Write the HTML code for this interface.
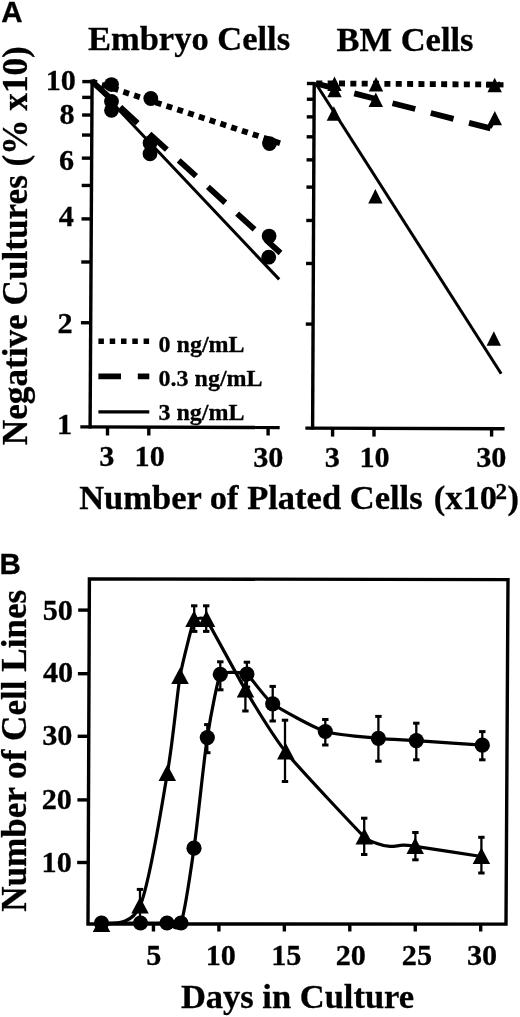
<!DOCTYPE html>
<html><head><meta charset="utf-8"><style>
html,body{margin:0;padding:0;background:#fff;}
svg{display:block;filter:grayscale(1) blur(0.3px);}
text{fill:#000;}
</style></head><body>
<svg width="520" height="1017" viewBox="0 0 520 1017">
<rect width="520" height="1017" fill="#fff"/>
<text x="1.20" y="22.10" font-size="29.5" text-anchor="start" font-family="Liberation Sans" font-weight="bold" stroke="#000" stroke-width="0.3" >A</text>
<text x="189.00" y="49.80" font-size="34.5" text-anchor="middle" font-family="Liberation Serif" font-weight="bold" stroke="#000" stroke-width="0.3" >Embryo Cells</text>
<text x="405.00" y="51.30" font-size="34.5" text-anchor="middle" font-family="Liberation Serif" font-weight="bold" stroke="#000" stroke-width="0.3" >BM Cells</text>
<text transform="translate(27.3,245.7) rotate(-90)" font-size="35.2" text-anchor="middle" font-family="Liberation Serif" font-weight="bold" stroke="#000" stroke-width="0.3">Negative Cultures (% x10)</text>
<line x1="92.10" y1="79.50" x2="90.10" y2="428.50" stroke="#000" stroke-width="3.4" />
<line x1="80.30" y1="426.85" x2="279.70" y2="427.50" stroke="#000" stroke-width="3.4" />
<line x1="82.29" y1="81.60" x2="92.09" y2="81.60" stroke="#000" stroke-width="3.4" />
<line x1="82.20" y1="97.39" x2="92.00" y2="97.39" stroke="#000" stroke-width="3.4" />
<line x1="82.10" y1="115.03" x2="91.90" y2="115.03" stroke="#000" stroke-width="3.4" />
<line x1="81.98" y1="135.04" x2="91.78" y2="135.04" stroke="#000" stroke-width="3.4" />
<line x1="81.85" y1="158.14" x2="91.65" y2="158.14" stroke="#000" stroke-width="3.4" />
<line x1="81.69" y1="185.46" x2="91.49" y2="185.46" stroke="#000" stroke-width="3.4" />
<line x1="81.50" y1="218.89" x2="91.30" y2="218.89" stroke="#000" stroke-width="3.4" />
<line x1="81.25" y1="261.99" x2="91.05" y2="261.99" stroke="#000" stroke-width="3.4" />
<line x1="80.91" y1="322.74" x2="90.71" y2="322.74" stroke="#000" stroke-width="3.4" />
<line x1="107.50" y1="426.94" x2="107.50" y2="435.50" stroke="#000" stroke-width="3.4" />
<line x1="148.80" y1="427.07" x2="148.80" y2="435.50" stroke="#000" stroke-width="3.4" />
<line x1="268.10" y1="427.46" x2="268.10" y2="435.50" stroke="#000" stroke-width="3.4" />
<text x="45.64" y="89.91" font-size="30.2" text-anchor="start" font-family="Liberation Serif" font-weight="bold" stroke="#000" stroke-width="0.3" >10</text>
<text x="59.50" y="124.21" font-size="30.2" text-anchor="start" font-family="Liberation Serif" font-weight="bold" stroke="#000" stroke-width="0.3" >8</text>
<text x="59.03" y="169.91" font-size="30.2" text-anchor="start" font-family="Liberation Serif" font-weight="bold" stroke="#000" stroke-width="0.3" >6</text>
<text x="58.82" y="226.20" font-size="30.2" text-anchor="start" font-family="Liberation Serif" font-weight="bold" stroke="#000" stroke-width="0.3" >4</text>
<text x="57.51" y="332.60" font-size="30.2" text-anchor="start" font-family="Liberation Serif" font-weight="bold" stroke="#000" stroke-width="0.3" >2</text>
<text x="57.07" y="434.20" font-size="30.2" text-anchor="start" font-family="Liberation Serif" font-weight="bold" stroke="#000" stroke-width="0.3" >1</text>
<text x="99.15" y="466.11" font-size="30.2" text-anchor="start" font-family="Liberation Serif" font-weight="bold" stroke="#000" stroke-width="0.3" >3</text>
<text x="134.62" y="466.11" font-size="30.2" text-anchor="start" font-family="Liberation Serif" font-weight="bold" stroke="#000" stroke-width="0.3" >10</text>
<text x="253.21" y="466.51" font-size="30.2" text-anchor="start" font-family="Liberation Serif" font-weight="bold" stroke="#000" stroke-width="0.3" >30</text>
<line x1="314.20" y1="82.00" x2="312.60" y2="429.50" stroke="#000" stroke-width="3.4" />
<line x1="305.40" y1="428.10" x2="504.60" y2="428.70" stroke="#000" stroke-width="3.4" />
<line x1="306.89" y1="83.50" x2="314.19" y2="83.50" stroke="#000" stroke-width="3.4" />
<line x1="306.82" y1="99.25" x2="314.12" y2="99.25" stroke="#000" stroke-width="3.4" />
<line x1="306.74" y1="116.86" x2="314.04" y2="116.86" stroke="#000" stroke-width="3.4" />
<line x1="306.65" y1="136.82" x2="313.95" y2="136.82" stroke="#000" stroke-width="3.4" />
<line x1="306.54" y1="159.86" x2="313.84" y2="159.86" stroke="#000" stroke-width="3.4" />
<line x1="306.42" y1="187.11" x2="313.72" y2="187.11" stroke="#000" stroke-width="3.4" />
<line x1="306.26" y1="220.47" x2="313.56" y2="220.47" stroke="#000" stroke-width="3.4" />
<line x1="306.06" y1="263.47" x2="313.36" y2="263.47" stroke="#000" stroke-width="3.4" />
<line x1="305.79" y1="324.09" x2="313.09" y2="324.09" stroke="#000" stroke-width="3.4" />
<line x1="332.60" y1="428.18" x2="332.60" y2="436.60" stroke="#000" stroke-width="3.4" />
<line x1="374.00" y1="428.31" x2="374.00" y2="436.60" stroke="#000" stroke-width="3.4" />
<line x1="491.60" y1="428.66" x2="491.60" y2="436.60" stroke="#000" stroke-width="3.4" />
<text x="324.80" y="466.81" font-size="30.2" text-anchor="start" font-family="Liberation Serif" font-weight="bold" stroke="#000" stroke-width="0.3" >3</text>
<text x="359.52" y="466.81" font-size="30.2" text-anchor="start" font-family="Liberation Serif" font-weight="bold" stroke="#000" stroke-width="0.3" >10</text>
<text x="476.21" y="467.31" font-size="30.2" text-anchor="start" font-family="Liberation Serif" font-weight="bold" stroke="#000" stroke-width="0.3" >30</text>
<text x="79.20" y="509.40" font-size="34.5" text-anchor="start" font-family="Liberation Serif" font-weight="bold" stroke="#000" stroke-width="0.3" >Number of Plated Cells</text>
<text x="433.70" y="509.40" font-size="34.5" text-anchor="start" font-family="Liberation Serif" font-weight="bold" stroke="#000" stroke-width="0.3" >(x10</text>
<text x="495.60" y="499.40" font-size="23" text-anchor="start" font-family="Liberation Serif" font-weight="bold" stroke="#000" stroke-width="0.3" >2</text>
<text x="507.60" y="509.40" font-size="34.5" text-anchor="start" font-family="Liberation Serif" font-weight="bold" stroke="#000" stroke-width="0.3" >)</text>
<line x1="92.00" y1="81.50" x2="280.50" y2="143.30" stroke="#000" stroke-width="5.8" stroke-dasharray="6 5.35" stroke-dashoffset="1.05"/>
<line x1="92.00" y1="81.50" x2="280.50" y2="253.00" stroke="#000" stroke-width="5.8" stroke-dasharray="23.5 16" stroke-dashoffset="1.3"/>
<line x1="92.00" y1="81.50" x2="279.20" y2="279.40" stroke="#000" stroke-width="3" />
<circle cx="111.50" cy="84.60" r="7.4" fill="#000"/>
<circle cx="111.50" cy="101.50" r="7.4" fill="#000"/>
<circle cx="111.50" cy="110.30" r="7.4" fill="#000"/>
<circle cx="150.80" cy="98.50" r="7.4" fill="#000"/>
<circle cx="150.00" cy="143.00" r="7.4" fill="#000"/>
<circle cx="150.00" cy="153.80" r="7.4" fill="#000"/>
<circle cx="269.50" cy="143.60" r="7.4" fill="#000"/>
<circle cx="269.10" cy="236.10" r="7.4" fill="#000"/>
<circle cx="268.70" cy="257.20" r="7.4" fill="#000"/>
<line x1="316.00" y1="83.30" x2="500.00" y2="84.60" stroke="#000" stroke-width="5.8" stroke-dasharray="6 5.35" stroke-dashoffset="-0.3"/>
<line x1="316.00" y1="83.50" x2="490.50" y2="128.40" stroke="#000" stroke-width="5.8" stroke-dasharray="23.5 16"/>
<line x1="315.80" y1="83.50" x2="501.20" y2="373.80" stroke="#000" stroke-width="3" />
<line x1="486.00" y1="84.80" x2="503.50" y2="84.80" stroke="#000" stroke-width="5.2" />
<line x1="489.30" y1="127.60" x2="492.80" y2="121.50" stroke="#000" stroke-width="5" />
<polygon points="334.50,76.58 327.30,90.98 341.70,90.98" fill="#000"/>
<polygon points="334.50,82.88 327.30,97.28 341.70,97.28" fill="#000"/>
<polygon points="376.00,77.08 368.80,91.48 383.20,91.48" fill="#000"/>
<polygon points="375.80,92.48 368.60,106.88 383.00,106.88" fill="#000"/>
<polygon points="494.70,77.78 487.50,92.18 501.90,92.18" fill="#000"/>
<polygon points="494.80,110.88 487.60,125.28 502.00,125.28" fill="#000"/>
<polygon points="333.90,106.28 326.70,120.68 341.10,120.68" fill="#000"/>
<polygon points="375.40,189.08 368.20,203.48 382.60,203.48" fill="#000"/>
<polygon points="493.80,331.28 486.60,345.68 501.00,345.68" fill="#000"/>
<line x1="98.40" y1="341.30" x2="149.30" y2="341.30" stroke="#000" stroke-width="5.5" stroke-dasharray="5.5 5.8"/>
<line x1="98.40" y1="376.40" x2="149.30" y2="376.40" stroke="#000" stroke-width="5.8" stroke-dasharray="22.6 16.8"/>
<line x1="98.40" y1="411.90" x2="149.30" y2="411.90" stroke="#000" stroke-width="3.4" />
<text x="158.60" y="352.20" font-size="24" text-anchor="start" font-family="Liberation Serif" font-weight="bold" stroke="#000" stroke-width="0.3" >0 ng/mL</text>
<text x="158.60" y="386.20" font-size="24" text-anchor="start" font-family="Liberation Serif" font-weight="bold" stroke="#000" stroke-width="0.3" >0.3 ng/mL</text>
<text x="158.40" y="420.10" font-size="24" text-anchor="start" font-family="Liberation Serif" font-weight="bold" stroke="#000" stroke-width="0.3" >3 ng/mL</text>
<text x="-0.50" y="573.70" font-size="29.5" text-anchor="start" font-family="Liberation Sans" font-weight="bold" stroke="#000" stroke-width="0.3" >B</text>
<text transform="translate(25.5,750.8) rotate(-90)" font-size="35.1" text-anchor="middle" font-family="Liberation Serif" font-weight="bold" stroke="#000" stroke-width="0.3">Number of Cell Lines</text>
<text x="297.50" y="1007.50" font-size="34.5" text-anchor="middle" font-family="Liberation Serif" font-weight="bold" stroke="#000" stroke-width="0.3" >Days in Culture</text>
<polygon points="89.4,578.9 508,579.6 506,924.1 88,924" fill="none" stroke="#000" stroke-width="3.4" stroke-linejoin="miter"/>
<line x1="78.17" y1="610.10" x2="89.27" y2="610.10" stroke="#000" stroke-width="3.4" />
<line x1="77.92" y1="673.70" x2="89.02" y2="673.70" stroke="#000" stroke-width="3.4" />
<line x1="77.66" y1="736.30" x2="88.76" y2="736.30" stroke="#000" stroke-width="3.4" />
<line x1="77.40" y1="799.90" x2="88.50" y2="799.90" stroke="#000" stroke-width="3.4" />
<line x1="77.15" y1="862.50" x2="88.25" y2="862.50" stroke="#000" stroke-width="3.4" />
<text x="42.67" y="619.51" font-size="30.2" text-anchor="start" font-family="Liberation Serif" font-weight="bold" stroke="#000" stroke-width="0.3" >50</text>
<text x="42.92" y="682.41" font-size="30.2" text-anchor="start" font-family="Liberation Serif" font-weight="bold" stroke="#000" stroke-width="0.3" >40</text>
<text x="42.21" y="744.61" font-size="30.2" text-anchor="start" font-family="Liberation Serif" font-weight="bold" stroke="#000" stroke-width="0.3" >30</text>
<text x="41.74" y="808.81" font-size="30.2" text-anchor="start" font-family="Liberation Serif" font-weight="bold" stroke="#000" stroke-width="0.3" >20</text>
<text x="41.57" y="872.21" font-size="30.2" text-anchor="start" font-family="Liberation Serif" font-weight="bold" stroke="#000" stroke-width="0.3" >10</text>
<line x1="153.45" y1="924.00" x2="153.45" y2="931.50" stroke="#000" stroke-width="3.4" />
<line x1="218.90" y1="924.00" x2="218.90" y2="931.50" stroke="#000" stroke-width="3.4" />
<line x1="284.35" y1="924.00" x2="284.35" y2="931.50" stroke="#000" stroke-width="3.4" />
<line x1="349.80" y1="924.00" x2="349.80" y2="931.50" stroke="#000" stroke-width="3.4" />
<line x1="415.25" y1="924.00" x2="415.25" y2="931.50" stroke="#000" stroke-width="3.4" />
<line x1="480.70" y1="924.00" x2="480.70" y2="931.50" stroke="#000" stroke-width="3.4" />
<text x="146.15" y="965.41" font-size="30.2" text-anchor="start" font-family="Liberation Serif" font-weight="bold" stroke="#000" stroke-width="0.3" >5</text>
<text x="205.72" y="965.41" font-size="30.2" text-anchor="start" font-family="Liberation Serif" font-weight="bold" stroke="#000" stroke-width="0.3" >10</text>
<text x="271.24" y="965.41" font-size="30.2" text-anchor="start" font-family="Liberation Serif" font-weight="bold" stroke="#000" stroke-width="0.3" >15</text>
<text x="335.74" y="965.41" font-size="30.2" text-anchor="start" font-family="Liberation Serif" font-weight="bold" stroke="#000" stroke-width="0.3" >20</text>
<text x="401.82" y="965.41" font-size="30.2" text-anchor="start" font-family="Liberation Serif" font-weight="bold" stroke="#000" stroke-width="0.3" >25</text>
<text x="466.96" y="965.41" font-size="30.2" text-anchor="start" font-family="Liberation Serif" font-weight="bold" stroke="#000" stroke-width="0.3" >30</text>
<path d="M101.50,924.50 C107.28,921.73 130.13,928.65 140.00,906.00 C149.87,883.35 161.30,807.92 167.30,773.50 C173.30,739.08 177.33,691.90 180.00,676.50 C182.67,661.10 193.29,621.02 194.00,619.50 C194.71,617.98 205.13,617.62 206.50,619.50 C207.87,621.38 240.21,681.17 245.50,690.00 C250.79,698.83 271.94,734.85 285.80,752.00 C299.66,769.15 359.74,832.43 364.30,837.00 C368.86,841.57 372.72,841.83 377.00,843.40 C381.28,844.97 385.67,846.10 390.00,846.40 C394.33,846.70 398.80,845.22 403.00,845.20 C407.20,845.18 407.36,845.17 415.20,846.30 C423.04,847.43 474.78,855.48 481.40,856.50" fill="none" stroke="#000" stroke-width="3.2" stroke-linejoin="round"/>
<path d="M101.50,923.00 C105.40,923.00 133.95,923.00 140.50,923.00 C147.05,923.00 162.95,923.00 167.00,923.00 C171.05,923.00 176.95,934.22 181.00,923.00 C185.05,911.78 190.06,876.01 194.00,848.20 C197.94,820.39 203.36,763.69 207.30,737.60 C211.25,711.51 218.32,677.48 220.30,674.30 C222.28,671.12 244.28,672.52 246.90,674.00 C249.52,675.48 264.86,698.05 272.70,703.80 C280.54,709.55 314.73,728.05 325.30,731.50 C335.87,734.95 369.30,737.39 378.40,738.30 C387.50,739.21 405.91,739.91 416.30,740.60 C426.69,741.29 475.70,744.74 482.30,745.20" fill="none" stroke="#000" stroke-width="3.2" stroke-linejoin="round"/>
<line x1="140.00" y1="889.40" x2="140.00" y2="922.00" stroke="#000" stroke-width="2.3" />
<line x1="136.80" y1="889.40" x2="143.20" y2="889.40" stroke="#000" stroke-width="3" />
<line x1="136.80" y1="922.00" x2="143.20" y2="922.00" stroke="#000" stroke-width="3" />
<line x1="194.20" y1="605.80" x2="194.20" y2="631.40" stroke="#000" stroke-width="2.3" />
<line x1="191.00" y1="605.80" x2="197.40" y2="605.80" stroke="#000" stroke-width="3" />
<line x1="191.00" y1="631.40" x2="197.40" y2="631.40" stroke="#000" stroke-width="3" />
<line x1="206.20" y1="605.80" x2="206.20" y2="631.40" stroke="#000" stroke-width="2.3" />
<line x1="203.00" y1="605.80" x2="209.40" y2="605.80" stroke="#000" stroke-width="3" />
<line x1="203.00" y1="631.40" x2="209.40" y2="631.40" stroke="#000" stroke-width="3" />
<line x1="245.40" y1="680.00" x2="245.40" y2="711.00" stroke="#000" stroke-width="2.3" />
<line x1="242.20" y1="680.00" x2="248.60" y2="680.00" stroke="#000" stroke-width="3" />
<line x1="242.20" y1="711.00" x2="248.60" y2="711.00" stroke="#000" stroke-width="3" />
<line x1="285.00" y1="720.20" x2="285.00" y2="781.50" stroke="#000" stroke-width="2.3" />
<line x1="281.80" y1="720.20" x2="288.20" y2="720.20" stroke="#000" stroke-width="3" />
<line x1="281.80" y1="781.50" x2="288.20" y2="781.50" stroke="#000" stroke-width="3" />
<line x1="364.20" y1="818.20" x2="364.20" y2="854.50" stroke="#000" stroke-width="2.3" />
<line x1="361.00" y1="818.20" x2="367.40" y2="818.20" stroke="#000" stroke-width="3" />
<line x1="361.00" y1="854.50" x2="367.40" y2="854.50" stroke="#000" stroke-width="3" />
<line x1="415.40" y1="832.50" x2="415.40" y2="859.80" stroke="#000" stroke-width="2.3" />
<line x1="412.20" y1="832.50" x2="418.60" y2="832.50" stroke="#000" stroke-width="3" />
<line x1="412.20" y1="859.80" x2="418.60" y2="859.80" stroke="#000" stroke-width="3" />
<line x1="481.40" y1="837.30" x2="481.40" y2="873.00" stroke="#000" stroke-width="2.3" />
<line x1="478.20" y1="837.30" x2="484.60" y2="837.30" stroke="#000" stroke-width="3" />
<line x1="478.20" y1="873.00" x2="484.60" y2="873.00" stroke="#000" stroke-width="3" />
<line x1="207.30" y1="724.60" x2="207.30" y2="752.70" stroke="#000" stroke-width="2.3" />
<line x1="204.10" y1="724.60" x2="210.50" y2="724.60" stroke="#000" stroke-width="3" />
<line x1="204.10" y1="752.70" x2="210.50" y2="752.70" stroke="#000" stroke-width="3" />
<line x1="220.30" y1="661.80" x2="220.30" y2="689.80" stroke="#000" stroke-width="2.3" />
<line x1="217.10" y1="661.80" x2="223.50" y2="661.80" stroke="#000" stroke-width="3" />
<line x1="217.10" y1="689.80" x2="223.50" y2="689.80" stroke="#000" stroke-width="3" />
<line x1="246.90" y1="662.20" x2="246.90" y2="687.00" stroke="#000" stroke-width="2.3" />
<line x1="243.70" y1="662.20" x2="250.10" y2="662.20" stroke="#000" stroke-width="3" />
<line x1="243.70" y1="687.00" x2="250.10" y2="687.00" stroke="#000" stroke-width="3" />
<line x1="272.70" y1="686.40" x2="272.70" y2="721.00" stroke="#000" stroke-width="2.3" />
<line x1="269.50" y1="686.40" x2="275.90" y2="686.40" stroke="#000" stroke-width="3" />
<line x1="269.50" y1="721.00" x2="275.90" y2="721.00" stroke="#000" stroke-width="3" />
<line x1="325.30" y1="719.50" x2="325.30" y2="745.00" stroke="#000" stroke-width="2.3" />
<line x1="322.10" y1="719.50" x2="328.50" y2="719.50" stroke="#000" stroke-width="3" />
<line x1="322.10" y1="745.00" x2="328.50" y2="745.00" stroke="#000" stroke-width="3" />
<line x1="378.40" y1="716.40" x2="378.40" y2="761.20" stroke="#000" stroke-width="2.3" />
<line x1="375.20" y1="716.40" x2="381.60" y2="716.40" stroke="#000" stroke-width="3" />
<line x1="375.20" y1="761.20" x2="381.60" y2="761.20" stroke="#000" stroke-width="3" />
<line x1="416.30" y1="723.20" x2="416.30" y2="759.80" stroke="#000" stroke-width="2.3" />
<line x1="413.10" y1="723.20" x2="419.50" y2="723.20" stroke="#000" stroke-width="3" />
<line x1="413.10" y1="759.80" x2="419.50" y2="759.80" stroke="#000" stroke-width="3" />
<line x1="482.30" y1="731.60" x2="482.30" y2="759.80" stroke="#000" stroke-width="2.3" />
<line x1="479.10" y1="731.60" x2="485.50" y2="731.60" stroke="#000" stroke-width="3" />
<line x1="479.10" y1="759.80" x2="485.50" y2="759.80" stroke="#000" stroke-width="3" />
<circle cx="101.50" cy="923.00" r="7.6" fill="#000"/>
<circle cx="140.50" cy="923.00" r="7.6" fill="#000"/>
<circle cx="167.00" cy="923.00" r="7.6" fill="#000"/>
<circle cx="181.00" cy="923.00" r="7.6" fill="#000"/>
<circle cx="194.00" cy="848.20" r="7.6" fill="#000"/>
<circle cx="207.30" cy="737.60" r="7.6" fill="#000"/>
<circle cx="220.30" cy="674.30" r="7.6" fill="#000"/>
<circle cx="246.90" cy="674.00" r="7.6" fill="#000"/>
<circle cx="272.70" cy="703.80" r="7.6" fill="#000"/>
<circle cx="325.30" cy="731.50" r="7.6" fill="#000"/>
<circle cx="378.40" cy="738.30" r="7.6" fill="#000"/>
<circle cx="416.30" cy="740.60" r="7.6" fill="#000"/>
<circle cx="482.30" cy="745.20" r="7.6" fill="#000"/>
<polygon points="101.50,915.42 92.75,931.92 110.25,931.92" fill="#000"/>
<polygon points="140.00,896.92 131.25,913.42 148.75,913.42" fill="#000"/>
<polygon points="167.30,764.42 158.55,780.92 176.05,780.92" fill="#000"/>
<polygon points="180.00,667.42 171.25,683.92 188.75,683.92" fill="#000"/>
<polygon points="194.00,610.42 185.25,626.92 202.75,626.92" fill="#000"/>
<polygon points="206.50,610.42 197.75,626.92 215.25,626.92" fill="#000"/>
<polygon points="245.50,680.92 236.75,697.42 254.25,697.42" fill="#000"/>
<polygon points="285.80,742.92 277.05,759.42 294.55,759.42" fill="#000"/>
<polygon points="364.30,827.92 355.55,844.42 373.05,844.42" fill="#000"/>
<polygon points="415.20,837.42 406.45,853.92 423.95,853.92" fill="#000"/>
<polygon points="481.40,847.42 472.65,863.92 490.15,863.92" fill="#000"/>
</svg>
</body></html>
